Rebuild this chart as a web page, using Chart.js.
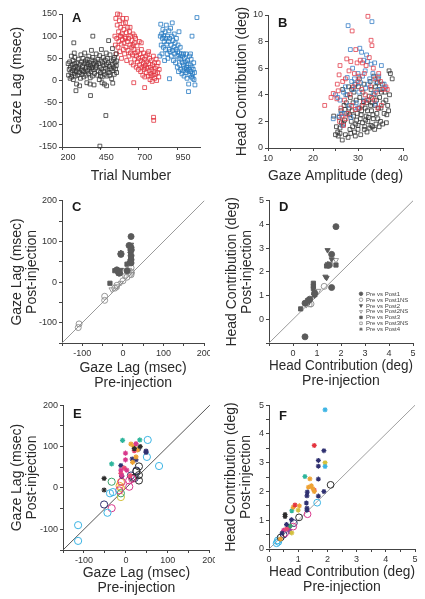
<!DOCTYPE html>
<html>
<head>
<meta charset="utf-8">
<script src="https://cdn.jsdelivr.net/npm/chart.js@4/dist/chart.umd.min.js"></script>
<style>
  body { margin:0; background:#fff; width:425px; height:599px; overflow:hidden; position:relative; }
  canvas { position:absolute; }
</style>
</head>
<body>
<canvas id="cA" width="210" height="195" style="left:0;top:0"></canvas>
<canvas id="cB" width="215" height="195" style="left:210px;top:0"></canvas>
<canvas id="cC" width="210" height="205" style="left:0;top:195px"></canvas>
<canvas id="cD" width="215" height="205" style="left:210px;top:195px"></canvas>
<canvas id="cE" width="215" height="199" style="left:0;top:400px"></canvas>
<canvas id="cF" width="215" height="199" style="left:210px;top:400px"></canvas>
<script>
// ---- panel A: gaze lag vs trial number ----
const trialBlack = [[240,38],[243,12],[247,25],[250,42],[253,5],[255,30],[258,18],[261,55],[263,8],[266,35],[269,22],[271,45],[274,2],[276,28],[279,15],[280,62],[282,38],[284,52],[287,10],[290,32],[293,20],[295,-8],[298,40],[301,26],[303,12],[306,48],[309,30],[277,85],[314,18],[317,36],[320,5],[323,58],[325,24],[291,-23],[328,42],[331,14],[334,32],[337,50],[340,20],[342,8],[345,38],[348,62],[351,26],[353,44],[356,12],[359,30],[362,-5],[364,48],[367,22],[370,36],[373,16],[375,55],[378,28],[381,40],[384,6],[387,34],[389,20],[392,68],[395,46],[398,10],[399,30],[401,52],[404,24],[407,38],[409,-10],[412,16],[415,44],[386,-34],[420,28],[423,60],[426,34],[429,12],[401,100],[434,48],[437,22],[440,38],[443,2],[446,56],[448,30],[451,18],[454,44],[457,70],[459,26],[462,8],[465,40],[468,52],[471,20],[473,34],[476,-8],[447,-148],[479,14],[482,46],[485,28],[488,62],[490,36],[493,10],[496,50],[499,24],[502,40],[504,90],[507,18],[510,32],[513,58],[486,-79],[518,26],[521,44],[524,4],[527,36],[529,72],[532,22],[535,48],[538,30],[541,14],[543,52],[546,40],[549,26],[552,60],[554,34],[556,18],[557,44],[315,-12],[383,-8],[461,-5],[491,-12],[531,-6],[334,22],[393,28],[451,10],[511,12],[285,22],[363,40],[421,40]];
const trialRed = [[545,100],[548,80],[551,140],[554,60],[557,95],[560,125],[562,150],[565,75],[569,110],[571,88],[574,135],[577,65],[579,100],[583,120],[586,82],[588,50],[591,105],[594,92],[597,140],[600,70],[603,115],[605,85],[608,60],[612,98],[614,130],[617,75],[620,108],[622,45],[626,88],[629,120],[631,68],[634,95],[637,55],[640,110],[643,80],[646,62],[648,100],[651,40],[655,75],[657,90],[660,58],[663,105],[665,35],[669,70],[672,85],[674,48],[677,62],[680,95],[668,-5],[684,30],[686,55],[689,78],[692,42],[694,65],[698,25],[701,50],[704,88],[706,35],[709,60],[713,20],[715,45],[718,70],[721,30],[723,52],[727,12],[730,40],[732,62],[735,25],[738,48],[740,8],[744,35],[747,55],[749,18],[752,42],[755,28],[739,-16],[760,60],[762,10],[765,38],[768,22],[771,50],[774,2],[777,30],[779,15],[782,45],[786,25],[788,-2],[791,35],[794,12],[796,55],[800,20],[803,40],[805,5],[808,28],[811,15],[814,48],[817,0],[820,32],[797,-83],[798,-90],[824,18],[827,40],[831,8],[834,25],[614,95],[644,120],[674,100],[717,85],[599,128],[577,148],[620,140],[583,100],[663,80],[738,30],[781,10],[765,65]];
const trialBlue = [[838,55],[841,100],[844,127],[847,80],[850,105],[852,60],[855,95],[858,115],[861,75],[864,100],[866,88],[869,45],[872,110],[875,70],[877,95],[880,125],[883,82],[886,60],[888,100],[891,50],[894,88],[897,112],[899,70],[902,95],[901,4],[905,65],[908,118],[911,80],[913,55],[916,100],[919,130],[921,68],[924,90],[927,45],[930,75],[932,105],[935,60],[938,85],[941,40],[943,70],[946,95],[949,55],[952,30],[954,65],[957,80],[960,20],[963,50],[965,62],[968,35],[971,75],[974,25],[976,48],[979,60],[982,15],[985,40],[987,55],[990,22],[993,35],[996,10],[998,50],[1001,28],[1004,42],[1007,18],[1009,60],[1012,30],[1015,5],[1018,45],[1020,22],[1023,38],[1026,-8],[1025,-25],[1029,25],[1031,55],[1034,12],[1037,35],[1040,20],[1042,48],[1045,8],[1048,30],[1051,15],[1053,5],[1056,25],[1059,40],[1061,2],[1064,18],[1067,-10],[1080,142],[1048,100],[963,110],[993,60],[1013,25],[1038,60]];
const trialTicks = [200,450,700,950];
const trialLabels = ['200','450','700','950'];
const lagTicksA = [-150,-100,-50,0,50,100,150];
const lagLabelsA = ['-150','-100','-50','0','50','100','150'];

// ---- panel B: head contribution vs gaze amplitude ----
const ampBlack = [[26.5,0.6],[27.2,1.0],[25.5,1.2],[26.0,1.5],[27.8,0.8],[26.8,1.8],[28.2,1.4],[27.0,2.1],[25.8,2.3],[28.8,1.6],[29.2,1.2],[26.3,1.9],[27.5,2.6],[28.5,2.0],[29.5,1.8],[30.0,1.4],[30.5,2.2],[29.8,2.6],[31.0,1.9],[31.5,1.6],[30.2,3.0],[31.8,2.4],[32.2,2.0],[32.6,1.5],[33.0,2.8],[33.4,2.2],[32.8,3.2],[31.2,3.5],[30.8,2.8],[29.0,2.4],[28.0,3.0],[27.4,3.4],[28.7,2.8],[29.6,3.6],[30.4,3.8],[31.6,3.0],[32.4,3.6],[33.8,3.2],[34.2,2.6],[34.6,3.0],[33.6,4.0],[34.8,3.8],[35.2,4.2],[35.6,3.4],[34.0,1.8],[34.4,2.2],[33.2,1.6],[32.0,1.2],[31.4,1.4],[30.6,1.0],[29.4,0.9],[28.4,1.1],[35.0,2.0],[35.8,2.6],[36.4,2.5],[36.8,2.8],[37.0,4.0],[36.2,3.6],[35.4,4.8],[34.9,4.4],[33.9,4.6],[32.9,4.4],[32.5,3.9],[31.9,3.4],[31.1,4.2],[30.1,4.6],[29.1,4.2],[28.3,3.8],[27.6,4.0],[26.9,3.2],[26.2,2.8],[25.2,1.6],[24.6,2.4],[25.0,1.0],[28.9,3.4],[30.9,3.2],[32.1,2.8],[33.1,3.4],[34.1,3.6],[35.1,3.0],[36.0,4.2],[36.6,3.2],[37.2,5.6],[37.6,5.2],[36.9,5.8],[34.5,5.2],[33.5,5.4],[32.7,5.0],[31.3,4.8],[30.3,5.2],[29.3,4.8],[27.9,4.6],[26.6,4.4],[28.6,4.4],[33.3,2.5],[32.3,2.3],[31.7,2.1],[30.7,2.5],[29.7,2.1],[28.1,2.5],[27.1,2.9],[35.5,1.8],[34.7,1.6],[33.7,1.4],[32.9,1.7],[30.0,1.7],[26.0,1.1],[25.6,0.9],[36.3,1.9],[34.3,4.9]];
const ampRed = [[22.6,3.2],[24.0,3.8],[24.5,4.1],[25.4,4.8],[25.8,5.5],[25.6,4.3],[26.2,3.0],[26.0,6.2],[27.5,6.7],[28.0,5.8],[27.2,5.2],[28.4,6.5],[28.7,8.8],[29.5,7.4],[29.8,6.4],[30.2,5.4],[30.5,6.6],[31.0,6.4],[31.4,5.6],[31.8,6.2],[32.2,9.9],[32.9,8.1],[33.1,7.7],[32.5,6.8],[33.4,6.0],[33.8,5.2],[34.6,5.6],[35.5,4.4],[36.2,4.6],[36.5,4.4],[35.0,5.0],[34.0,4.2],[33.0,3.8],[32.0,3.6],[31.2,3.4],[30.4,3.0],[29.4,2.9],[28.6,3.2],[27.8,2.6],[27.0,3.6],[26.4,2.4],[25.9,2.0],[26.8,1.7],[28.2,4.0],[29.0,4.6],[30.8,4.4],[31.6,4.0],[32.8,4.6],[33.6,3.6],[34.4,3.0],[35.2,3.2],[26.6,5.0],[29.2,5.6],[30.0,5.0],[27.3,2.2],[25.3,3.7]];
const ampBlue = [[24.5,2.2],[25.0,4.0],[25.5,3.8],[26.0,3.6],[26.3,2.6],[26.8,4.2],[27.3,4.0],[27.6,5.3],[27.8,9.2],[28.3,7.4],[28.6,5.0],[28.8,6.0],[29.2,5.2],[29.5,4.8],[29.6,3.4],[30.0,5.6],[30.4,7.5],[30.8,7.2],[31.0,5.4],[31.3,6.6],[31.6,5.8],[31.9,7.0],[32.1,6.5],[32.6,5.2],[32.9,6.3],[33.1,9.5],[33.3,5.6],[33.7,6.4],[34.0,5.0],[34.4,4.4],[35.2,6.2],[35.8,4.8],[36.0,4.5],[28.0,3.2],[27.0,2.6],[26.5,1.7],[28.4,2.3],[30.2,4.2],[31.4,3.6],[32.3,4.8],[33.5,4.1],[34.6,5.4],[29.9,3.0],[30.6,4.9],[27.2,4.6],[28.9,4.4],[25.8,2.4],[31.7,4.5],[33.9,3.3]];
const ampTicks = [10,15,20,25,30,35,40];
const ampLabels = ['10','','20','','30','','40'];
const headTicksB = [0,2,4,6,8,10];
const headLabelsB = ['0','2','4','6','8','10'];

// ---- panel C: gaze lag pre vs post (msec) ----
const lagPost1 = [[20,112],[15,90],[20,85],[20,78],[-15,30],[-8,22],[20,55],[20,47],[10,28],[-5,68],[20,65]];
const lagPost1NS = [[-108,-103],[-110,-112],[-45,-35],[-45,-45],[-20,-15],[-15,-8],[0,3],[10,12],[20,18],[20,35]];
const lagPost2 = [[20,92],[18,70],[-10,25],[-5,30]];
const lagPost2NS = [[-5,-2],[-28,-18],[15,30],[22,20]];
const lagPost3 = [[-32,-3],[10,44],[20,60],[-20,28],[-12,24]];
const lagPost3NS = [[-15,-12],[5,15],[22,25]];
const lagPost4 = [[-5,70],[20,80],[-10,22],[18,50]];
const lagTicks = [-150,-100,-50,0,50,100,150,200];
const lagLabels = ['','-100','','0','','100','','200'];

// ---- panel D: head contribution pre vs post (deg) ----
const headPost1 = [[1.79,3.91],[1.61,2.74],[1.61,1.34],[0.5,-0.74],[1.5,2.28],[0.7,0.85],[0.65,0.8],[0.9,1.1],[0.5,0.68]];
const headPost1NS = [[1.3,1.39],[0.75,0.65]];
const headPost2 = [[1.44,2.92],[1.61,2.53],[1.35,1.8],[1.4,1.75],[0.9,1.0]];
const headPost2NS = [[1.79,2.5],[1.05,1.2],[0.55,0.6]];
const headPost3 = [[0.85,1.52],[0.85,1.4],[0.85,1.3],[0.32,0.44],[1.4,2.25],[1.79,2.29],[0.9,1.15],[0.6,0.7]];
const headPost3NS = [[1.55,2.32],[0.7,0.62]];
const headPost4 = [[0.9,1.05],[0.62,0.78],[1.45,2.3]];
const headTicksD = [-1,0,1,2,3,4,5];
const headLabelsD = ['','0','1','2','3','4','5'];
const keyNames = ['Pre vs Post1','Pre vs Post1NS','Pre vs Post2','Pre vs Post2NS','Pre vs Post3','Pre vs Post3NS','Pre vs Post4'];

// ---- panel E: gaze lag, per-site colours ----
const eRingCyan = [[-114,-90],[-114,-128],[52,116],[50,75],[79,53],[-38,-13],[-31,-10],[-44,-60]];
const eRingMagenta = [[-34,-49],[-16,-6],[8,3],[8,18],[-10,15],[15,22]];
const eRingBlack = [[31,18],[31,52],[17,24],[31,31],[25,40]];
const eRingNavy = [[-52,-40],[21,24],[25,42],[12,30]];
const eRingGreen = [[-34,15],[-12,-13]];
const eRingOrange = [[-12,14],[-12,0],[-15,5]];
const eRingYellow = [[-12,-22]];
const eStarTeal = [[-8,115],[-34,58],[33,116]];
const eStarBlack = [[-52,23],[-52,-5],[34,100],[20,95]];
const eStarMagenta = [[-1,84],[-1,68],[-12,43],[2,43],[-10,30],[24,107]];
const eStarPink = [[-4,48],[10,30],[-12,35],[20,90]];
const eStarOrange = [[12,106],[19,100],[24,75],[16,62],[28,92]];
const eStarNavy = [[15,70],[48,89],[48,86],[-12,54],[-10,28],[30,94],[24,68]];

// ---- panel F: head contribution, per-site colours ----
const fStarCyan = [[1.92,4.84],[1.92,2.87]];
const fStarRed = [[1.55,3.6],[0.89,1.53]];
const fStarNavy = [[1.88,3.42],[1.69,3.08],[1.69,2.88],[1.69,2.43],[1.88,2.0],[1.69,1.84],[1.31,1.98],[1.3,1.85],[1.28,1.6],[1.3,1.42],[1.3,1.35],[0.77,1.02],[0.6,0.85],[0.45,0.55]];
const fStarYellow = [[1.92,3.0],[1.0,1.35],[0.78,0.56]];
const fStarOrange = [[1.4,2.44],[1.45,2.2],[1.5,2.1],[1.35,2.15],[1.04,1.5],[0.83,1.45],[0.39,0.35],[1.55,2.0]];
const fStarPink = [[1.55,2.05],[0.6,0.7]];
const fStarTeal = [[0.78,1.33],[1.23,2.52]];
const fStarGreen = [[0.72,0.8]];
const fStarBlack = [[0.55,1.13],[0.55,1.2]];
const fStarMagenta = [[0.65,0.75],[0.5,0.65]];
const fStarPurple = [[0.68,0.68],[0.72,0.6]];
const fRingBlack = [[2.11,2.23],[1.03,1.1],[0.4,0.4]];
const fRingCyan = [[1.65,1.61],[0.32,0.25],[0.26,0.2],[0.3,0.3]];
const fRingMagenta = [[1.32,1.21],[0.83,0.78],[0.55,0.55]];
const fRingNavy = [[0.5,0.5],[0.85,0.9]];
const headTicksF = [0,0.5,1,1.5,2,2.5,3,3.5,4,4.5,5];
const headLabelsF = ['0','','1','','2','','3','','4','','5'];

const FONT = '"Liberation Sans", Arial, sans-serif';
const pts = a => a.map(([x, y]) => ({ x, y }));
const NONE = 'rgba(0,0,0,0)';

const letterPlugin = {
  id: 'letter',
  afterDraw(chart, args, o) {
    const { ctx, chartArea } = chart;
    ctx.save();
    ctx.font = 'bold 13px ' + FONT;
    ctx.fillStyle = '#1a1a1a';
    ctx.fillText(o.text, chartArea.left + o.dx, chartArea.top + o.dy);
    ctx.restore();
  }
};

// little marker key drawn inside panel D
const keyPlugin = {
  id: 'markerKey',
  afterDraw(chart, args, o) {
    if (!o.items) return;
    const { ctx, chartArea } = chart;
    ctx.save();
    ctx.font = '6px ' + FONT;
    ctx.textBaseline = 'middle';
    o.items.forEach((it, i) => {
      const x = chartArea.left + o.dx, y = chartArea.top + o.dy + i * 5.9;
      ctx.fillStyle = it.fill;
      ctx.strokeStyle = it.stroke;
      ctx.lineWidth = 0.8;
      Chart.helpers.drawPoint(ctx, { pointStyle: it.style, rotation: it.rotation || 0, radius: 1.8, borderWidth: 0.8 }, x, y);
      ctx.fillStyle = '#444';
      ctx.fillText(it.label, x + 5, y + 0.3);
    });
    ctx.restore();
  }
};

function axis(min, max, ticks, labels, title, titlePad, fit, labelOffset) {
  return {
    type: 'linear', min, max,
    afterBuildTicks: s => { s.ticks = ticks.map(v => ({ value: v })); },
    afterFit: s => {
      if (s.isHorizontal()) s.height = fit; else s.width = fit;
      s.paddingLeft = s.paddingRight = s.paddingTop = s.paddingBottom = 0;
    },
    ticks: { callback: (v, i) => labels[i], font: { family: FONT, size: 9 }, color: '#333', padding: 2, autoSkip: false,
      maxRotation: 0, minRotation: 0, labelOffset: labelOffset || 0 },
    grid: { drawOnChartArea: false, drawTicks: true, tickLength: 3, color: '#444', lineWidth: 1 },
    border: { color: '#444', width: 1 },
    title: { display: true, text: title, font: { family: FONT, size: 14, lineHeight: 1.05 }, color: '#2a2a2a', padding: titlePad }
  };
}

function panel(id, p) {
  const datasets = p.sets.slice();
  if (p.diag) {
    datasets.push({ data: pts(p.diag), showLine: true, pointRadius: 0, borderColor: p.diagColor, borderWidth: 1, order: 10 });
  }
  datasets.forEach(d => { d.clip = false; });
  return new Chart(document.getElementById(id), {
    type: 'scatter',
    data: { datasets },
    options: {
      responsive: false, animation: false, events: [],
      layout: { padding: { top: p.pad[0], right: p.pad[1], left: 0, bottom: 0 } },
      plugins: { legend: { display: false }, tooltip: { enabled: false }, letter: p.letter, markerKey: p.key || {} },
      scales: {
        x: axis(...p.x),
        y: axis(...p.y)
      }
    },
    plugins: [letterPlugin, keyPlugin]
  });
}

const sq = (data, color) => ({ data: pts(data), pointStyle: 'rect', pointRadius: 2.7, borderWidth: 0.8, borderColor: color, backgroundColor: NONE });

panel('cA', {
  sets: [sq(trialBlack, '#333'), sq(trialRed, '#e2343f'), sq(trialBlue, '#2479c2')],
  pad: [14, 10],
  x: [200, 1100, trialTicks, trialLabels, 'Trial Number', 12, 48, 6],
  y: [-150, 150, lagTicksA, lagLabelsA, 'Gaze Lag (msec)', 10, 62],
  letter: { text: 'A', dx: 10, dy: 8 }
});

panel('cB', {
  sets: [sq(ampRed, '#e2404e'), sq(ampBlue, '#3a7fc6'), sq(ampBlack, '#333')],
  pad: [15, 22],
  x: [10, 40, ampTicks, ampLabels, 'Gaze Amplitude (deg)', 12, 47],
  y: [0, 10, headTicksB, headLabelsB, 'Head Contribution (deg)', 25, 58],
  letter: { text: 'B', dx: 10, dy: 12 }
});

// grey marker styles for panels C and D
const GREY = '#5a5a5a', RING = '#8c8c8c';
const greyStyles = [
  { style: 'circle', fill: GREY, stroke: GREY },
  { style: 'circle', fill: NONE, stroke: RING },
  { style: 'triangle', rotation: 180, fill: GREY, stroke: GREY },
  { style: 'triangle', rotation: 180, fill: NONE, stroke: RING },
  { style: 'rect', fill: GREY, stroke: GREY },
  { style: 'rect', fill: NONE, stroke: RING },
  { style: 'star', fill: GREY, stroke: GREY }
];
const greySets = (lists, r) => lists.map((l, i) => {
  const s = greyStyles[i];
  return { data: pts(l), pointStyle: s.style, rotation: s.rotation || 0, pointRadius: s.style === 'star' ? r + 0.5 : r,
    borderWidth: s.style === 'star' ? 1.8 : 0.9, borderColor: s.stroke, backgroundColor: s.fill };
});

panel('cC', {
  sets: greySets([lagPost1, lagPost1NS, lagPost2, lagPost2NS, lagPost3, lagPost3NS, lagPost4], 3),
  diag: [[-150, -150], [200, 200]], diagColor: '#9a9a9a',
  pad: [4, 3],
  x: [-150, 200, lagTicks, lagLabels, ['Gaze Lag (msec)', 'Pre-injection'], 10, 57],
  y: [-150, 200, lagTicks, lagLabels, ['Gaze Lag (msec)', 'Post-injection'], 10, 62],
  letter: { text: 'C', dx: 10, dy: 10 }
});

panel('cD', {
  sets: greySets([headPost1, headPost1NS, headPost2, headPost2NS, headPost3, headPost3NS, headPost4], 3),
  diag: [[-1, -1], [5, 5]], diagColor: '#9a9a9a',
  pad: [3, 12],
  x: [-1, 5, headTicksD, headLabelsD, ['Head Contribution (deg)', 'Pre-injection'], 12, 57],
  y: [-1, 5, headTicksD, headLabelsD, ['Head Contribution (deg)', 'Post-injection'], 15, 59],
  letter: { text: 'D', dx: 10, dy: 10 },
  key: { dx: 92, dy: 93, items: keyNames.map((label, i) => Object.assign({ label }, greyStyles[i])) }
});

const COL = { cyan: '#3cb4e4', magenta: '#d8388c', black: '#2c2c2c', navy: '#2f3070', green: '#3aa26a', orange: '#eea234',
  yellow: '#d4c13c', teal: '#2eb59c', pink: '#ea4a70', red: '#e4343e', purple: '#8c4aa8' };
const ring = (data, c, r) => ({ data: pts(data), pointStyle: 'circle', pointRadius: r, borderWidth: 1, borderColor: COL[c], backgroundColor: NONE });
const star = (data, c, r) => ({ data: pts(data), pointStyle: 'star', pointRadius: r, borderWidth: 1.2, borderColor: COL[c], backgroundColor: COL[c] });

panel('cE', {
  sets: [
    star(eStarTeal, 'teal', 2.6), star(eStarBlack, 'black', 2.6), star(eStarMagenta, 'magenta', 2.6), star(eStarPink, 'pink', 2.6),
    star(eStarOrange, 'orange', 2.6), star(eStarNavy, 'navy', 2.6),
    ring(eRingCyan, 'cyan', 3.6), ring(eRingMagenta, 'magenta', 3.6), ring(eRingBlack, 'black', 3.6), ring(eRingNavy, 'navy', 3.6),
    ring(eRingGreen, 'green', 3.6), ring(eRingOrange, 'orange', 3.6), ring(eRingYellow, 'yellow', 3.6)
  ],
  diag: [[-150, -150], [200, 200]], diagColor: '#555',
  pad: [4, 5],
  x: [-150, 200, lagTicks, lagLabels, ['Gaze Lag (msec)', 'Pre-injection'], 4, 49],
  y: [-150, 200, lagTicks, lagLabels, ['Gaze Lag (msec)', 'Post-injection'], 10, 63],
  letter: { text: 'E', dx: 10, dy: 13 }
});

panel('cF', {
  sets: [
    star(fStarCyan, 'cyan', 2.5), star(fStarRed, 'red', 2.5), star(fStarNavy, 'navy', 2.5), star(fStarYellow, 'yellow', 2.5),
    star(fStarOrange, 'orange', 2.5), star(fStarPink, 'pink', 2.5), star(fStarTeal, 'teal', 2.5), star(fStarGreen, 'green', 2.5),
    star(fStarBlack, 'black', 2.5), star(fStarMagenta, 'magenta', 2.5), star(fStarPurple, 'purple', 2.5),
    ring(fRingBlack, 'black', 3.4), ring(fRingCyan, 'cyan', 3.4), ring(fRingMagenta, 'magenta', 3.4), ring(fRingNavy, 'navy', 3.4)
  ],
  diag: [[0, 0], [5, 5]], diagColor: '#a0a0a0',
  pad: [2, 10],
  x: [0, 5, headTicksF, headLabelsF, ['Head Contribution (deg)', 'Pre-injection'], 5, 50],
  y: [0, 5, headTicksF, headLabelsF, ['Head Contribution (deg)', 'Post-injection'], 14, 59],
  letter: { text: 'F', dx: 10, dy: 15 }
});
</script>
</body>
</html>
